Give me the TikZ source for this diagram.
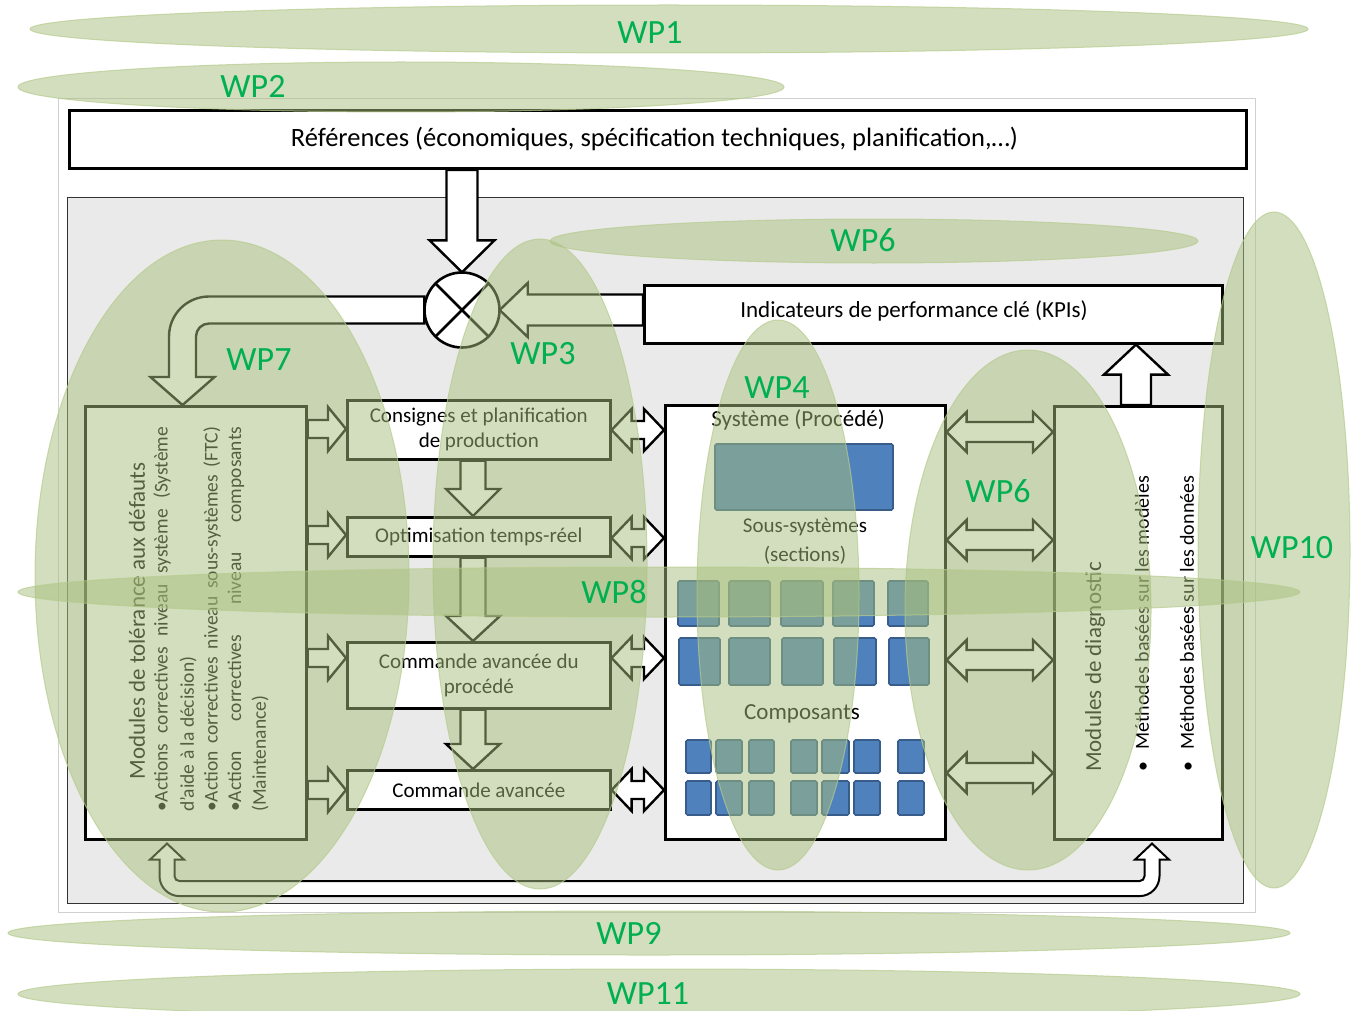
\documentclass[tikz,border=0pt]{standalone}
\usepackage{fontspec}
\setmainfont{Carlito}
\usetikzlibrary{calc}
\definecolor{wpfill}{HTML}{A7BF7C}
\definecolor{wpedge}{HTML}{B7CC8E}
\definecolor{wptext}{HTML}{00B050}
\definecolor{panelgray}{HTML}{EAEAEA}
\definecolor{compblue}{HTML}{4F81BD}
\definecolor{compedge}{HTML}{385D8A}
\tikzset{
 box/.style={draw=black, line width=2.6pt, fill=white, inner sep=0pt, anchor=north west},
 barrow/.style={draw=black, line width=2.4pt, fill=white, line join=miter},
 wp/.style={fill=wpfill, fill opacity=0.5, draw=wpedge, draw opacity=0.7, line width=1pt},
 wplabel/.style={text=wptext, font=\fontsize{34}{34}\selectfont, inner sep=0pt},
 compbox/.style={fill=compblue, draw=compedge, line width=1.6pt, rounded corners=1.5pt},
 rot/.style={rotate=90, inner sep=0pt},
 fa/.style={font=\fontsize{21}{25}\selectfont},
 fb/.style={font=\fontsize{23}{27}\selectfont},
 fc/.style={font=\fontsize{19.5}{24}\selectfont},
}
% horizontal block arrow: start, tip, shaft half, head half, head length (signed)
\newcommand\HArr[5]{\path[barrow] let \p1=(#1), \p2=(#2) in (\x1,{\y2+#3}) -- ({\x2-1*(#5)},{\y2+#3}) -- ({\x2-1*(#5)},{\y2+#4}) -- (\x2,\y2) -- ({\x2-1*(#5)},{\y2-#4}) -- ({\x2-1*(#5)},{\y2-#3}) -- (\x1,{\y2-#3}) -- cycle;}
% vertical block arrow
\newcommand\VArr[5]{\path[barrow] let \p1=(#1), \p2=(#2) in ({\x2+#3},\y1) -- ({\x2+#3},{\y2+1*(#5)}) -- ({\x2+#4},{\y2+1*(#5)}) -- (\x2,\y2) -- ({\x2-#4},{\y2+1*(#5)}) -- ({\x2-#3},{\y2+1*(#5)}) -- ({\x2-#3},\y1) -- cycle;}
% horizontal double block arrow
\newcommand\DArr[5]{\path[barrow] let \p1=(#1), \p2=(#2) in (\x1,\y2) -- ({\x1+#5},{\y2+#4}) -- ({\x1+#5},{\y2+#3}) -- ({\x2-#5},{\y2+#3}) -- ({\x2-#5},{\y2+#4}) -- (\x2,\y2) -- ({\x2-#5},{\y2-#4}) -- ({\x2-#5},{\y2-#3}) -- ({\x1+#5},{\y2-#3}) -- ({\x1+#5},{\y2-#4}) -- cycle;}
\begin{document}
\begin{tikzpicture}[x=1pt,y=-1pt]
\useasboundingbox (0,0) rectangle (1359,1011);
\fill[white] (0,0) rectangle (1359,1011);

% frames
\node[draw=black!18, line width=0.8pt, fill=white, minimum width=1197pt, minimum height=814pt, inner sep=0pt, anchor=north west] (frame) at (58,98) {};
\node[draw=black!80, line width=1.4pt, fill=panelgray, minimum width=1176pt, minimum height=706pt, inner sep=0pt, anchor=north west] (panel) at (67,197) {};

% boxes
\node[box, line width=3pt, minimum width=1177pt, minimum height=58pt] (ref) at (68,109) {};
\node[inner sep=0pt, font=\fontsize{26.5}{30}\selectfont] (refT) at (654.5,139) {Références (économiques, spécification techniques, planification,…)};
\node[box, minimum width=578pt, minimum height=58pt] (kpi) at (643,284) {};
\node[inner sep=0pt, fb] (kpiT) at (914,311) {Indicateurs de performance clé (KPIs)};
\node[box, minimum width=221pt, minimum height=433pt] (tol) at (84,405) {};
\node[box, minimum width=263pt, minimum height=59pt, fa, align=center] (cons) at (346,399) {Consignes et planification\\de production};
\node[box, minimum width=263pt, minimum height=39pt, fa] (opt) at (346,516) {Optimisation temps-réel};
\node[box, minimum width=263pt, minimum height=66pt, fa, align=center] (cap) at (346,641) {Commande avancée du\\procédé};
\node[box, minimum width=263pt, minimum height=39pt, fa] (ca) at (346,769) {Commande avancée};
\node[box, minimum width=280pt, minimum height=434pt] (sys) at (664,404) {};
\node[box, minimum width=168pt, minimum height=433pt] (diag) at (1053,405) {};

% left box text
\node[rot, fb] (tolT) at (137,621) {Modules de tolérance aux défauts};
\node[rot, fc, anchor=west] (tolA) at (162,812) {\makebox[385pt][s]{\textbullet Actions correctives niveau système (Système}};
\node[rot, fc, anchor=west] (tolB) at (188,812) {d'aide à la décision)};
\node[rot, fc, anchor=west] (tolC) at (212,812) {\makebox[385pt][s]{\textbullet Action correctives niveau sous-systèmes (FTC)}};
\node[rot, fc, anchor=west] (tolD) at (236,812) {\makebox[385pt][s]{\textbullet Action correctives niveau composants}};
\node[rot, fc, anchor=west] (tolE) at (260,812) {(Maintenance)};

% diagnostic text
\node[rot, fb, anchor=west] (diagT) at (1095,772) {Modules de diagnostic};
\node[rot, font=\fontsize{20}{24}\selectfont, anchor=west] (diagA) at (1142,772) {\textbullet\hspace{12pt}Méthodes basées sur les modèles};
\node[rot, font=\fontsize{20}{24}\selectfont, anchor=west] (diagB) at (1187,772) {\textbullet\hspace{12pt}Méthodes basées sur les données};

% system contents
\node[fb, inner sep=0pt] (sysT) at (798,420) {Système (Procédé)};
\node[fa, inner sep=0pt] (subT) at (805,527) {Sous-systèmes};
\node[fa, inner sep=0pt] (secT) at (805,555) {(sections)};
\node[fb, inner sep=0pt] (compT) at (802,714) {Composants};
\path[compbox] (715,444) rectangle (893,510);
\foreach \a/\b in {678/719,729/770,781/823,833/874,888/928} \path[compbox] (\a,581) rectangle (\b,626);
\foreach \a/\b in {679/720,729/770,782/823,834/876,889/929} \path[compbox] (\a,638) rectangle (\b,685);
\foreach \a/\b in {686/711,716/742,749/774,791/817,822/849,854/880,898/924} {
  \path[compbox] (\a,740) rectangle (\b,773);
  \path[compbox] (\a,781) rectangle (\b,815);
}

% mixer placeholder
\node[circle, minimum size=75pt, inner sep=0pt] (mix) at (462,310) {};

% arrows
\VArr{ref.south -| 460,0}{mix.north}{15.5pt}{32.5pt}{32pt}
\HArr{kpi.west |- 0,311}{mix.east}{15.5pt}{27pt}{-28pt}
\path[barrow] let \p1=(mix.west), \p2=(tol.north -| 182.5,0) in
 (\x1,{\y1+13.5pt}) -- ({\x2+26.5pt},{\y1+13.5pt})
 .. controls ({\x2+4.4pt},{\y1+13.5pt}) and ({\x2-13.5pt},{\y1-4.4pt}) .. ({\x2-13.5pt},{\y1-26.5pt})
 -- ({\x2-13.5pt},{\y2+28pt}) -- ({\x2-32pt},{\y2+28pt}) -- (\x2,\y2) -- ({\x2+32pt},{\y2+28pt}) -- ({\x2+13.5pt},{\y2+28pt})
 -- ({\x2+13.5pt},{\y1-26.5pt}) .. controls ({\x2+13.5pt},{\y1-19.3pt}) and ({\x2+19.3pt},{\y1-13.5pt}) .. ({\x2+26.5pt},{\y1-13.5pt})
 -- (\x1,{\y1-13.5pt}) -- cycle;
\draw[line width=2.6pt, fill=white] (mix.center) circle[radius=37.5pt];
\draw[line width=2.6pt] (mix.north west) -- (mix.south east) (mix.north east) -- (mix.south west);

\HArr{tol.east |- 0,429}{cons.west |- 0,429}{9pt}{22pt}{18pt}
\HArr{tol.east |- 0,535}{opt.west |- 0,535}{9pt}{22pt}{18pt}
\HArr{tol.east |- 0,658}{cap.west |- 0,658}{9pt}{22pt}{18pt}
\HArr{tol.east |- 0,790}{ca.west |- 0,790}{9pt}{22pt}{18pt}

\VArr{cons.south -| 473,0}{opt.north -| 473,0}{12.5pt}{27pt}{27pt}
\VArr{opt.south -| 473,0}{cap.north -| 473,0}{12.5pt}{27pt}{25pt}
\VArr{cap.south -| 473,0}{ca.north -| 473,0}{12.5pt}{27pt}{25pt}

\DArr{cons.east |- 0,430}{sys.west |- 0,430}{9pt}{21pt}{20pt}
\DArr{opt.east |- 0,538}{sys.west |- 0,538}{9pt}{21pt}{20pt}
\DArr{cap.east |- 0,658}{sys.west |- 0,658}{9pt}{21pt}{20pt}
\DArr{ca.east |- 0,790}{sys.west |- 0,790}{9pt}{21pt}{20pt}

\DArr{sys.east |- 0,432}{diag.west |- 0,432}{10pt}{20pt}{20pt}
\DArr{sys.east |- 0,540}{diag.west |- 0,540}{10pt}{20pt}{20pt}
\DArr{sys.east |- 0,660}{diag.west |- 0,660}{10pt}{20pt}{20pt}
\DArr{sys.east |- 0,773}{diag.west |- 0,773}{10pt}{20pt}{20pt}

\VArr{diag.north -| 1136,0}{kpi.south -| 1136,0}{15pt}{32pt}{-30pt}

\path[barrow, line width=2pt] let \p1=(tol.south -| 167,0), \p2=(diag.south -| 1152,0) in
 (\x1,{\y1-3pt}) -- ({\x1+17pt},{\y1-19pt}) -- ({\x1+7.5pt},{\y1-19pt}) -- ({\x1+7.5pt},{\y1-35.5pt})
 .. controls ({\x1+7.5pt},{\y1-38.3pt}) and ({\x1+9.7pt},{\y1-40.5pt}) .. ({\x1+12.5pt},{\y1-40.5pt})
 -- ({\x2-12.5pt},{\y2-40.5pt}) .. controls ({\x2-9.7pt},{\y2-40.5pt}) and ({\x2-7.5pt},{\y2-38.3pt}) .. ({\x2-7.5pt},{\y2-35.5pt})
 -- ({\x2-7.5pt},{\y2-19pt}) -- ({\x2-17pt},{\y2-19pt}) -- (\x2,{\y2-3pt}) -- ({\x2+17pt},{\y2-19pt}) -- ({\x2+7.5pt},{\y2-19pt})
 -- ({\x2+7.5pt},{\y2-35.5pt}) .. controls ({\x2+7.5pt},{\y2-46.5pt}) and ({\x2-1.5pt},{\y2-55.5pt}) .. ({\x2-12.5pt},{\y2-55.5pt})
 -- ({\x1+12.5pt},{\y1-55.5pt}) .. controls ({\x1+1.5pt},{\y1-55.5pt}) and ({\x1-7.5pt},{\y1-46.5pt}) .. ({\x1-7.5pt},{\y1-35.5pt})
 -- ({\x1-7.5pt},{\y1-19pt}) -- ({\x1-17pt},{\y1-19pt}) -- cycle;

% work package ellipses
\path[wp] (669,29) ellipse [x radius=639pt, y radius=24pt];
\path[wp] (401,87) ellipse [x radius=383pt, y radius=25pt];
\path[wp] (874,241) ellipse [x radius=324pt, y radius=22pt];
\path[wp] (222,576) ellipse [x radius=187pt, y radius=336pt];
\path[wp] (540,564) ellipse [x radius=107pt, y radius=325pt];
\path[wp] (778,595) ellipse [x radius=81pt, y radius=275pt];
\path[wp] (1028,610) ellipse [x radius=123pt, y radius=260pt];
\path[wp] (1274,550) ellipse [x radius=76pt, y radius=338pt];
\path[wp] (659,592) ellipse [x radius=641pt, y radius=25pt];
\path[wp] (649,933) ellipse [x radius=641pt, y radius=22pt];
\path[wp] (659,994) ellipse [x radius=641pt, y radius=25pt];

% labels
\node[wplabel] (wp1) at (650,33) {WP1};
\node[wplabel] (wp2) at (253,86) {WP2};
\node[wplabel] (wp6a) at (863,240) {WP6};
\node[wplabel] (wp7) at (259,360) {WP7};
\node[wplabel] (wp3) at (543,354) {WP3};
\node[wplabel] (wp4) at (777,388) {WP4};
\node[wplabel] (wp6b) at (998,491) {WP6};
\node[wplabel] (wp10) at (1292,548) {WP10};
\node[wplabel] (wp8) at (614,592) {WP8};
\node[wplabel] (wp9) at (629,933) {WP9};
\node[wplabel] (wp11) at (648,994) {WP11};
\end{tikzpicture}
\end{document}
